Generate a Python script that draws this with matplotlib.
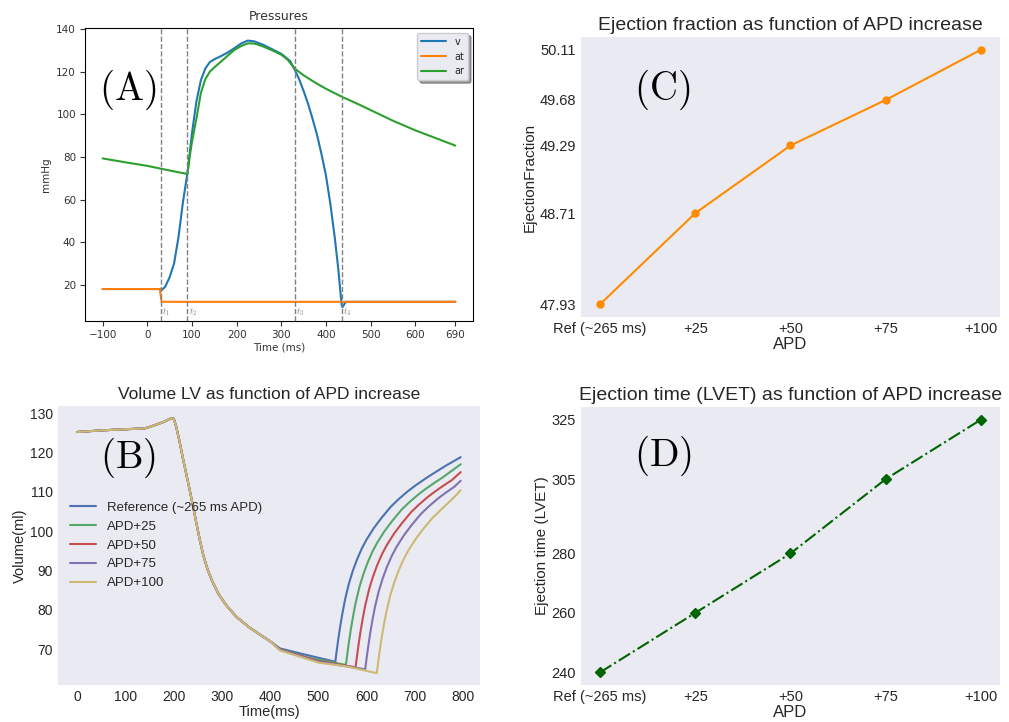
import matplotlib
matplotlib.use("Agg")
import matplotlib.pyplot as plt

# ---- (A) pressures ----
at_t = [-100, 28, 32, 690]
at_p = [18.0, 18.0, 12.0, 12.0]

v_t = [-100, 28, 32, 40, 50, 60, 70, 80, 90, 100, 110, 120, 130, 140, 150, 165, 180,
       195, 210, 225, 240, 260, 280, 300, 320, 330, 340, 350, 360, 370, 380, 390, 400,
       410, 420, 428, 435, 437, 445, 690]
v_p = [18.0, 18.0, 17.5, 19.0, 23.5, 30.0, 42.5, 59.0, 72.5, 91.0, 106.0, 116.0, 121.5,
       124.5, 125.8, 127.3, 129.0, 131.0, 133.2, 134.6, 134.2, 132.6, 130.5, 128.4, 125.0,
       121.0, 116.5, 111.0, 105.0, 98.0, 90.5, 81.5, 71.5, 58.0, 42.0, 27.0, 11.0, 9.5,
       12.0, 12.0]

ar_t = [-100, -50, 0, 30, 60, 90, 95, 100, 105, 110, 120, 130, 140, 150, 165, 180, 195,
        210, 225, 240, 260, 280, 300, 315, 330, 350, 375, 400, 435, 470, 500, 550, 600,
        650, 690]
ar_p = [79.3, 77.5, 75.8, 74.5, 73.2, 72.0, 80.0, 87.0, 92.5, 98.0, 110.0, 116.5, 120.0,
        122.0, 124.7, 127.5, 130.2, 132.0, 133.3, 133.2, 131.8, 130.0, 128.0, 125.5, 121.5,
        118.3, 115.0, 112.0, 108.3, 105.0, 102.0, 97.0, 92.5, 88.5, 85.3]

event_t = [30, 90, 330, 435]
event_lbl = [r"$t_1$", r"$t_2$", r"$t_3$", r"$t_4$"]

# ---- (B) LV volume ----
common_t = [0, 50, 100, 140, 160, 180, 195, 200, 205, 212, 219, 226, 233, 240, 247, 254,
            261, 270, 280, 293, 308, 330, 356, 380, 400]
common_v = [125.2, 125.6, 125.9, 126.1, 126.9, 127.8, 128.7, 128.6, 126.6, 122.8, 118.5,
            114.5, 110.5, 106.3, 102.0, 97.8, 94.0, 90.3, 87.2, 84.0, 81.3, 78.2, 75.6,
            73.6, 72.0]

vol_labels = ["Reference (~265 ms APD)", "APD+25", "APD+50", "APD+75", "APD+100"]
tail_t = [
    [420, 480, 535, 538, 541, 545, 550, 555, 563, 571, 580, 590, 600, 615, 631, 650, 666,
     685, 700, 720, 735, 765, 795],
    [420, 480, 557, 560, 563, 567, 572, 577, 585, 593, 602, 612, 622, 637, 653, 672, 688,
     707, 722, 742, 757, 795],
    [420, 500, 577, 580, 583, 587, 592, 597, 605, 613, 622, 632, 642, 657, 673, 692, 708,
     727, 742, 762, 777, 795],
    [420, 500, 597, 600, 603, 607, 612, 617, 625, 633, 642, 652, 662, 677, 693, 712, 728,
     747, 762, 782, 795],
    [420, 500, 560, 621, 624, 627, 631, 636, 641, 649, 657, 666, 676, 686, 701, 717, 736,
     752, 771, 786, 795],
]
tail_v = [
    [70.2, 68.4, 66.8, 69.7, 72.4, 75.7, 79.3, 82.5, 86.6, 89.8, 92.8, 95.6, 97.9, 100.8,
     103.4, 106.2, 108.1, 110.1, 111.5, 113.2, 114.4, 116.7, 118.8],
    [70.0, 67.8, 66.0, 68.9, 71.6, 74.9, 78.5, 81.7, 85.8, 89.0, 92.0, 94.8, 97.1, 100.0,
     102.6, 105.4, 107.3, 109.3, 110.7, 112.4, 113.6, 117.0],
    [69.9, 67.0, 65.4, 68.3, 71.0, 74.3, 77.9, 81.1, 85.2, 88.4, 91.4, 94.2, 96.5, 99.4,
     102.0, 104.8, 106.7, 108.7, 110.1, 111.8, 113.0, 115.0],
    [69.8, 66.8, 64.9, 67.8, 70.5, 73.8, 77.4, 80.6, 84.7, 87.9, 90.9, 93.7, 96.0, 98.9,
     101.5, 104.3, 106.2, 108.2, 109.6, 111.3, 112.8],
    [69.7, 66.6, 65.6, 63.9, 66.8, 69.5, 72.8, 76.4, 79.6, 83.7, 86.9, 89.9, 92.7, 95.0,
     97.9, 100.5, 103.3, 105.2, 107.4, 109.2, 110.4],
]
vol_colors = ["#4C72B0", "#55A868", "#C44E52", "#8172B2", "#CCB974"]

# ---- (C) / (D) ----
apd_labels = ["Ref (~265 ms)", "+25", "+50", "+75", "+100"]
ef = [47.93, 48.71, 49.29, 49.68, 50.11]
lvet = [240, 260, 280, 305, 325]

plt.style.use("seaborn-v0_8-dark")
plt.rcParams["font.family"] = ["Liberation Sans", "DejaVu Sans"]
plt.rcParams["mathtext.fontset"] = "cm"

W, H = 1009, 722
fig = plt.figure(figsize=(W / 100, H / 100), dpi=100)


def box(l, t, r, b):
    return [l / W, 1 - b / H, (r - l) / W, (b - t) / H]


# --- panel A (plain matplotlib look) ---
axA = fig.add_axes(box(85, 28, 473, 321))
axA.set_facecolor("white")
for s in axA.spines.values():
    s.set_visible(True)
    s.set_color("black")
    s.set_linewidth(0.8)
axA.tick_params(length=3.5, width=0.8, colors="#333333", labelsize=7.5,
                labelfontfamily="DejaVu Sans", pad=3)
axA.plot(v_t, v_p, color="#1f77b4", lw=1.5, label="v")
axA.plot(at_t, at_p, color="#ff7f0e", lw=1.5, label="at")
axA.plot(ar_t, ar_p, color="#2ca02c", lw=1.5, label="ar")
for x, lbl in zip(event_t, event_lbl):
    axA.axvline(x, color="gray", ls="--", lw=1)
    axA.text(x + 3, 7, lbl, color="gray", fontsize=6.5, va="center", ha="left")
axA.set_xlim(-139.5, 729.5)
axA.set_ylim(3, 140.5)
axA.set_xticks([-100, 0, 100, 200, 300, 400, 500, 600, 690])
axA.set_yticks([20, 40, 60, 80, 100, 120, 140])
axA.set_title("Pressures", fontsize=9, fontfamily="DejaVu Sans", color="#333333", pad=6)
axA.set_xlabel("Time (ms)", fontsize=7.5, fontfamily="DejaVu Sans", color="#333333",
               labelpad=2)
axA.set_ylabel("mmHg", fontsize=7.5, fontfamily="DejaVu Sans", color="#333333")
leg = axA.legend(loc="upper right", frameon=True, shadow=True, handlelength=2.6,
                 prop={"family": "DejaVu Sans", "size": 7})
leg.get_frame().set_edgecolor("#cccccc")

# --- panel B ---
axB = fig.add_axes(box(58, 406, 480, 685))
for lbl, tt, vv, c in zip(vol_labels, tail_t, tail_v, vol_colors):
    axB.plot(common_t + tt, common_v + vv, color=c, lw=1.5, label=lbl)
axB.set_xlim(-40, 835)
axB.set_ylim(60.9, 131.8)
axB.set_xticks(range(0, 900, 100))
axB.set_yticks(range(70, 140, 10))
axB.tick_params(labelsize=10)
axB.set_title("Volume LV as function of APD increase", fontsize=12.5, pad=5)
axB.set_xlabel("Time(ms)", fontsize=10.5, labelpad=1)
axB.set_ylabel("Volume(ml)", fontsize=10.5, labelpad=2)
axB.legend(loc="center left", fontsize=9.5, frameon=False)

# --- panel C ---
axC = fig.add_axes(box(581, 37, 1000, 317))
axC.plot(apd_labels, ef, color="darkorange", marker="o", ms=5, lw=1.5)
axC.set_yticks(ef)
axC.set_yticklabels([f"{v:.2f}" for v in ef])
axC.tick_params(labelsize=10.5)
axC.set_title("Ejection fraction as function of APD increase", fontsize=14, pad=5)
axC.set_xlabel("APD", fontsize=12, labelpad=1)
axC.set_ylabel("EjectionFraction", fontsize=11, labelpad=2)

# --- panel D ---
axD = fig.add_axes(box(581, 407, 1000, 685))
axD.plot(apd_labels, lvet, color="darkgreen", marker="D", ms=5, lw=1.5, ls="-.")
axD.set_yticks(lvet)
axD.tick_params(labelsize=10.5)
axD.set_title("Ejection time (LVET) as function of APD increase", fontsize=14, pad=5)
axD.set_xlabel("APD", fontsize=12, labelpad=1)
axD.set_ylabel("Ejection time (LVET)", fontsize=11, labelpad=2)

# panel letters
for txt, (px, py) in zip(["(A)", "(B)", "(C)", "(D)"],
                         [(128, 90), (128, 458), (662, 90), (663, 456)]):
    fig.text(px / W, 1 - py / H, r"$\mathrm{" + txt + "}$", fontsize=28,
             ha="center", va="center", color="black")

fig.savefig("out.png", dpi=100)
